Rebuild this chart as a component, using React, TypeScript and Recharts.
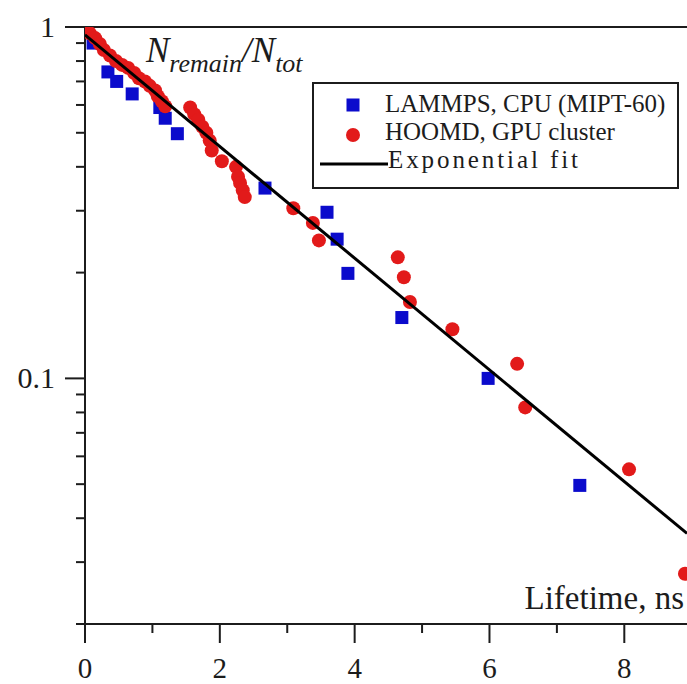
import React from 'react';
import { ScatterChart, Scatter, XAxis, YAxis, ReferenceLine } from 'recharts';

// ---- data ----
const lammpsX = [0, 0.12, 0.34, 0.47, 0.7, 1.11, 1.19, 1.37, 2.67, 3.59, 3.74, 3.9, 4.7, 5.98, 7.34];
const lammpsY = [1, 0.9, 0.745, 0.7, 0.645, 0.59, 0.55, 0.497, 0.348, 0.297, 0.249, 0.199, 0.149, 0.1, 0.0496];

const hoomdX = [
  0, 0.07, 0.15, 0.22, 0.28, 0.37, 0.46, 0.55, 0.64, 0.73, 0.8, 0.89, 0.96, 1.04, 1.08, 1.14, 1.19,
  1.56, 1.62, 1.68, 1.74, 1.8, 1.85, 1.88, 2.03,
  2.24, 2.27, 2.3, 2.34, 2.37,
  3.09, 3.38, 3.47, 4.64, 4.73, 4.82, 5.45, 6.41, 6.53, 8.07, 8.9,
];
const hoomdY = [
  1, 0.96, 0.93, 0.895, 0.86, 0.83, 0.8, 0.78, 0.765, 0.74, 0.715, 0.7, 0.68, 0.66, 0.635, 0.615, 0.595,
  0.59, 0.565, 0.545, 0.52, 0.5, 0.475, 0.445, 0.415,
  0.4, 0.375, 0.36, 0.343, 0.328,
  0.305, 0.277, 0.247, 0.221, 0.194, 0.165, 0.138, 0.11, 0.0827, 0.0551, 0.0278,
];

const fitX = [0, 8.93];
const fitY = [0.95, 0.0362];

const xTicks = [0, 1, 2, 3, 4, 5, 6, 7, 8];
const xTickLabels = ['0', '', '2', '', '4', '', '6', '', '8'];
const yTicks = [0.02, 0.03, 0.04, 0.05, 0.06, 0.07, 0.08, 0.09, 0.1, 0.2, 0.3, 0.4, 0.5, 0.6, 0.7, 0.8, 0.9, 1];
const yMajorTicks = [0.1, 1];
const yMajorLabels = ['0.1', '1'];

const seriesNames = ['LAMMPS, CPU (MIPT-60)', 'HOOMD, GPU cluster', 'Exponential fit'];

// ---- styling ----
const INK = '#1c1c1c';
const BLUE = '#0b0bcc';
const RED = '#e21a1a';
const SERIF = "'Liberation Serif', 'Times New Roman', Times, serif";

const lammpsData = lammpsX.map((x, i) => ({ x, y: lammpsY[i] }));
const hoomdData = hoomdX.map((x, i) => ({ x, y: hoomdY[i] }));
const fitData = fitX.map((x, i) => ({ x, y: fitY[i] }));

const txt = (size: number, extra: any = {}) => ({ fontFamily: SERIF, fontSize: size, ...extra });

const YTick = (props: any) => {
  const { x, y, payload } = props;
  const v = payload.value;
  const idx = yMajorTicks.findIndex((m) => Math.abs(m - v) < 1e-9);
  const major = idx >= 0;
  const len = major ? 20 : 9;
  return (
    <g>
      <line x1={x} x2={x - len} y1={y} y2={y} stroke={INK} strokeWidth={2} />
      {major && (
        <text x={x - 30} y={y} dy={10} textAnchor="end" style={txt(30)} fill={INK}>
          {yMajorLabels[idx]}
        </text>
      )}
    </g>
  );
};

const XTick = (props: any) => {
  const { x, y, payload } = props;
  const idx = xTicks.indexOf(payload.value);
  const label = idx >= 0 ? xTickLabels[idx] : '';
  const major = label !== '';
  const len = major ? 19 : 9;
  return (
    <g>
      <line x1={x} x2={x} y1={y} y2={y + len} stroke={INK} strokeWidth={2} />
      {major && (
        <text x={x} y={y} dy={54} textAnchor="middle" style={txt(29)} fill={INK}>
          {label}
        </text>
      )}
    </g>
  );
};

const SquareShape = (p: any) => <rect x={p.cx - 6.5} y={p.cy - 6.5} width={13} height={13} fill={BLUE} />;
const DotShape = (p: any) => <circle cx={p.cx} cy={p.cy} r={7} fill={RED} />;
const NoShape = () => <g />;

export default function App() {
  return (
    <div style={{ position: 'absolute', left: 0, top: 0, width: 687, height: 684, background: '#fff' }}>
      <div style={{ position: 'absolute', left: 0, top: 0 }}>
        <ScatterChart width={687} height={684} margin={{ top: 27, right: 0, left: 0, bottom: 0 }}>
          <XAxis
            type="number"
            dataKey="x"
            domain={[0, 8.93]}
            allowDataOverflow
            ticks={xTicks}
            interval={0}
            height={60}
            tickSize={0}
            tickMargin={0}
            tickLine={false}
            tick={<XTick />}
            axisLine={{ stroke: INK, strokeWidth: 2 }}
          />
          <YAxis
            type="number"
            dataKey="y"
            scale="log"
            domain={[0.02, 1]}
            allowDataOverflow
            ticks={yTicks}
            interval={0}
            width={85}
            tickSize={0}
            tickMargin={0}
            tickLine={false}
            tick={<YTick />}
            axisLine={{ stroke: INK, strokeWidth: 2 }}
          />
          <ReferenceLine y={1} stroke={INK} strokeWidth={2} />
          <Scatter name={seriesNames[0]} data={lammpsData} shape={<SquareShape />} isAnimationActive={false} />
          <Scatter name={seriesNames[1]} data={hoomdData} shape={<DotShape />} isAnimationActive={false} />
          <Scatter
            name={seriesNames[2]}
            data={fitData}
            shape={<NoShape />}
            line={{ stroke: '#000', strokeWidth: 3 }}
            isAnimationActive={false}
          />
        </ScatterChart>
      </div>
      <svg
        width={687}
        height={684}
        style={{ position: 'absolute', left: 0, top: 0, pointerEvents: 'none' }}
      >
        <text x={146} y={62} style={txt(35, { fontStyle: 'italic' })} fill={INK}>
          N
          <tspan dy={10} style={txt(26, { fontStyle: 'italic' })}>remain</tspan>
          <tspan dy={-10} style={txt(35, { fontStyle: 'italic' })}>/N</tspan>
          <tspan dy={10} style={txt(26, { fontStyle: 'italic' })}>tot</tspan>
        </text>
        <text x={684} y={609} textAnchor="end" style={txt(33)} fill={INK}>
          Lifetime, ns
        </text>
        <rect x={313} y={83} width={365} height={105} fill="#fff" stroke={INK} strokeWidth={2} />
        <rect x={346.5} y={98.5} width={13} height={13} fill={BLUE} />
        <circle cx={353} cy={135} r={7} fill={RED} />
        <line x1={320} x2={388} y1={164} y2={164} stroke="#000" strokeWidth={3} />
        <text x={385} y={112} style={txt(25)} fill={INK}>{seriesNames[0]}</text>
        <text x={385} y={140} style={txt(25)} fill={INK}>{seriesNames[1]}</text>
        <text x={388} y={168} style={txt(25)} fill={INK} textLength={190} lengthAdjust="spacing">
          {seriesNames[2]}
        </text>
      </svg>
    </div>
  );
}
